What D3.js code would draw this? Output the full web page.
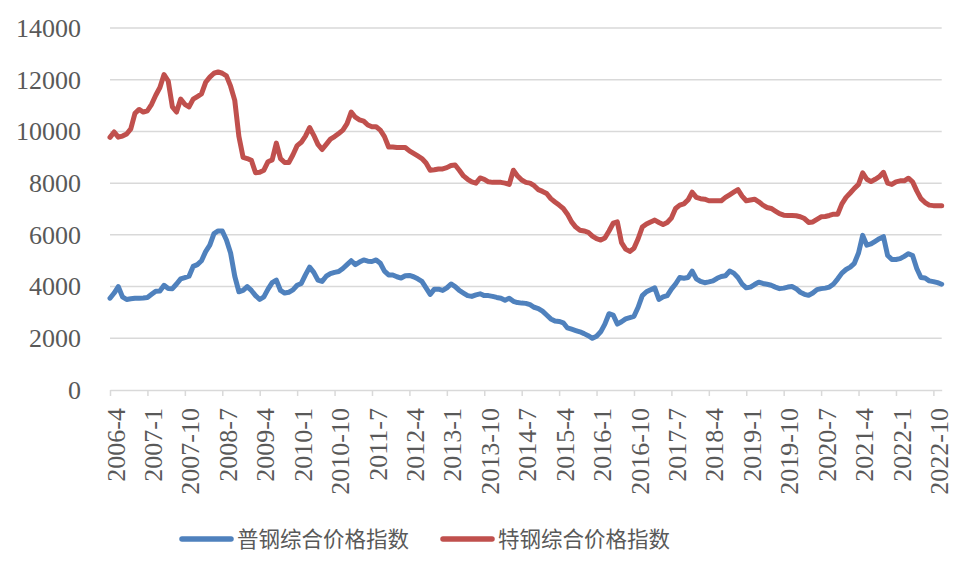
<!DOCTYPE html>
<html>
<head>
<meta charset="utf-8">
<script src="https://cdn.jsdelivr.net/npm/d3@7"></script>
<style>
	body { margin: 0; background: #ffffff; }
	svg { display: block; }
</style>
</head>
<body>
<script>

//-----------------------------------------------------------------------------------------------------------------DATA

// months 2006-4 ... 2022-12
var months = []
for (var k = 0; k < 201; k++) {
	var m = 3 + k
	months.push((2006 + Math.floor(m / 12)) + "-" + (m % 12 + 1))
}

// every 9th month gets a tick label
var tickLabels = months.filter(function (d, i) { return i % 9 == 0 })

var yTicks = [0, 2000, 4000, 6000, 8000, 10000, 12000, 14000]

var seriesNames = ["普钢综合价格指数", "特钢综合价格指数"]

var ordinarySteel = [
	3550, 3750, 4000, 3600, 3500, 3530, 3550, 3550, 3560, 3580,
	3700, 3820, 3830, 4050, 3930, 3920, 4100, 4300, 4350, 4400,
	4780, 4850, 5000, 5350, 5600, 6050, 6150, 6150, 5800, 5300,
	4400, 3800, 3850, 4000, 3850, 3650, 3500, 3600, 3900, 4150,
	4250, 3850, 3750, 3780, 3870, 4050, 4120, 4450, 4750, 4550,
	4250, 4200, 4400, 4500, 4550, 4580, 4700, 4850, 5000, 4850,
	4950, 5030, 4980, 4970, 5030, 4900, 4600, 4450, 4450, 4380,
	4330, 4420, 4430, 4380, 4300, 4200, 3950, 3700, 3900, 3900,
	3850, 3950, 4100, 4000, 3850, 3750, 3650, 3620, 3680, 3720,
	3650, 3650, 3620, 3580, 3550, 3470, 3550, 3430, 3380, 3360,
	3350, 3300, 3200, 3150, 3050, 2900, 2750, 2670, 2650, 2600,
	2400, 2350, 2300, 2250, 2180, 2100, 2000, 2080, 2250, 2550,
	2950, 2900, 2550, 2640, 2750, 2800, 2850, 3200, 3650, 3800,
	3880, 3950, 3500, 3600, 3650, 3900, 4100, 4350, 4320, 4350,
	4600, 4300, 4200, 4150, 4180, 4220, 4320, 4390, 4420, 4600,
	4520, 4350, 4100, 3950, 3980, 4080, 4170, 4120, 4090, 4050,
	3980, 3920, 3940, 3980, 4000, 3920, 3780, 3700, 3660, 3750,
	3880, 3920, 3940, 3980, 4100, 4300, 4520, 4660, 4750, 4900,
	5300, 5980, 5600, 5650, 5750, 5850, 5930, 5200, 5050, 5050,
	5080, 5170, 5270, 5200, 4700, 4350, 4330, 4220, 4190, 4150,
	4090
]

var specialSteel = [
	9770, 9980, 9780, 9820, 9900, 10100, 10700, 10850, 10750, 10800,
	11050, 11400, 11700, 12200, 11950, 10950, 10750, 11250, 11050, 10950,
	11250, 11350, 11450, 11900, 12100, 12250, 12300, 12250, 12150, 11750,
	11200, 9800, 9000, 8950, 8880, 8400, 8420, 8500, 8830, 8900,
	9550, 8950, 8800, 8800, 9100, 9450, 9580, 9820, 10150, 9850,
	9500, 9300, 9500, 9700, 9800, 9920, 10050, 10300, 10750, 10550,
	10450, 10400, 10250, 10180, 10180, 10050, 9800, 9400, 9400, 9380,
	9380, 9380, 9250, 9150, 9050, 8950, 8780, 8500, 8520, 8550,
	8550, 8600, 8680, 8700, 8500, 8280, 8150, 8050, 8000, 8200,
	8150, 8050, 8030, 8030, 8030, 8000, 7950, 8500, 8280, 8120,
	8030, 8000, 7900, 7750, 7680, 7600, 7400, 7270, 7150, 7020,
	6800, 6500, 6300, 6180, 6150, 6100, 5950, 5850, 5800, 5880,
	6150, 6450, 6500, 5700, 5450, 5360, 5480, 5850, 6300, 6420,
	6500, 6570, 6480, 6400, 6480, 6650, 7020, 7150, 7200, 7350,
	7650, 7450, 7400, 7380, 7320, 7320, 7320, 7320, 7450, 7550,
	7650, 7750, 7500, 7320, 7350, 7380, 7280, 7150, 7060, 7020,
	6920, 6820, 6760, 6750, 6750, 6740, 6700, 6630, 6480, 6500,
	6600, 6700, 6710, 6750, 6800, 6800, 7200, 7450, 7620, 7800,
	7950, 8400, 8150, 8060, 8150, 8250, 8420, 8000, 7950, 8050,
	8090, 8090, 8190, 8050, 7700, 7400, 7250, 7150, 7130, 7130,
	7130
]

var seriesColors = ["#4F81BD", "#C0504D"]

//-----------------------------------------------------------------------------------------------------------------CHART

var width = 960
var height = 567
var plot = { left: 110, right: 941.7, top: 28, bottom: 390 }
var textColor = "#595959"
var gridColor = "#d9d9d9"
var serif = "'Liberation Serif', 'Times New Roman', serif"

var svg = d3.select("body").append("svg").attr("width", width).attr("height", height)

var x = d3.scalePoint().domain(months).range([plot.left, plot.right])
var y = d3.scaleLinear().domain([0, 14000]).range([plot.bottom, plot.top])

// gridlines
svg.append("g").selectAll("line")
	.data(yTicks.slice(1))
	.enter().append("line")
	.attr("x1", plot.left)
	.attr("x2", plot.right)
	.attr("y1", function (d) { return y(d) })
	.attr("y2", function (d) { return y(d) })
	.attr("stroke", gridColor)
	.attr("stroke-width", 1.5)

// y axis (labels only)
var yAxis = svg.append("g")
	.attr("transform", "translate(" + plot.left + ",0)")
	.call(d3.axisLeft(y).tickValues(yTicks).tickFormat(d3.format("d")).tickSize(0).tickPadding(29))
yAxis.select(".domain").remove()
yAxis.selectAll("text")
	.attr("fill", textColor)
	.style("font-family", serif)
	.style("font-size", "26px")

// x axis
var xAxis = svg.append("g")
	.attr("transform", "translate(0," + plot.bottom + ")")
	.call(d3.axisBottom(x).tickValues(tickLabels).tickSize(6).tickSizeOuter(0))
xAxis.select(".domain").attr("stroke", gridColor).attr("stroke-width", 1.5)
xAxis.selectAll(".tick line").attr("stroke", gridColor).attr("stroke-width", 1.5)
xAxis.selectAll("text")
	.attr("fill", textColor)
	.attr("transform", "rotate(-90)")
	.attr("x", -18)
	.attr("y", 5)
	.attr("dy", "0.35em")
	.attr("text-anchor", "end")
	.style("font-family", serif)
	.style("font-size", "26px")

// lines
var line = d3.line()
	.x(function (d, i) { return x(months[i]) })
	.y(function (d) { return y(d) })

var allSeries = [ordinarySteel, specialSteel]

svg.append("g").selectAll("path")
	.data(allSeries)
	.enter().append("path")
	.attr("d", line)
	.attr("fill", "none")
	.attr("stroke", function (d, i) { return seriesColors[i] })
	.attr("stroke-width", 5)
	.attr("stroke-linejoin", "round")
	.attr("stroke-linecap", "round")

//-----------------------------------------------------------------------------------------------------------------LEGEND

var legendX = [182, 443]
var legendY = 539

var legend = svg.append("g").selectAll("g")
	.data(seriesNames)
	.enter().append("g")
	.attr("transform", function (d, i) { return "translate(" + legendX[i] + "," + legendY + ")" })

legend.append("line")
	.attr("x1", 0).attr("x2", 49)
	.attr("y1", 0).attr("y2", 0)
	.attr("stroke", function (d, i) { return seriesColors[i] })
	.attr("stroke-width", 5.5)
	.attr("stroke-linecap", "round")

legend.append("text")
	.attr("x", 55)
	.attr("y", 0)
	.attr("dy", "0.36em")
	.attr("fill", textColor)
	.style("font-family", "'Noto Sans CJK SC', sans-serif")
	.style("font-size", "21.5px")
	.text(function (d) { return d })

</script>
</body>
</html>
